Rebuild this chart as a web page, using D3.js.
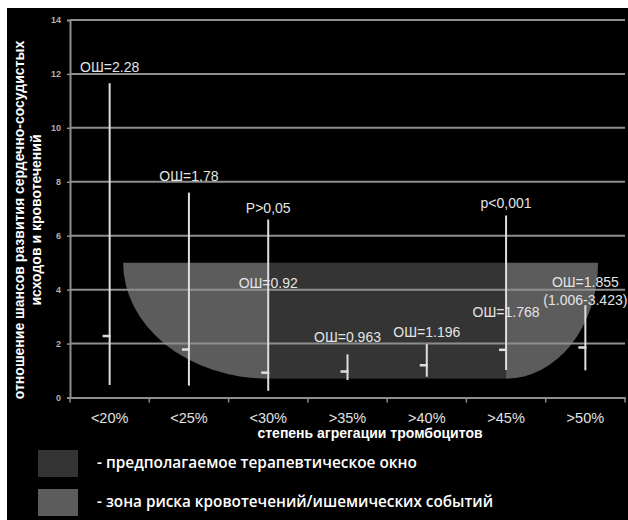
<!DOCTYPE html>
<html>
<head>
<meta charset="utf-8">
<script src="https://cdn.jsdelivr.net/npm/d3@7"></script>
<style>
  html, body { margin: 0; padding: 0; background: #fff; }
  svg { display: block; }
</style>
</head>
<body>
<script>
// Platelet aggregation groups
const categories = ["<20%", "<25%", "<30%", ">35%", ">40%", ">45%", ">50%"];
// Odds ratio and 95% confidence interval for each group
const oddsRatio = [2.28, 1.78, 0.92, 0.963, 1.196, 1.768, 1.855];
const ciLow     = [0.46, 0.44, 0.25, 0.65, 0.77, 1.02, 1.006];
const ciHigh    = [11.65, 7.6, 6.6, 1.6, 1.98, 6.75, 3.423];
// Y axis ticks
const yTicks = [0, 2, 4, 6, 8, 10, 12, 14];
// Annotation texts, their group and the value level of their baseline
const noteTexts  = ["ОШ=2.28", "ОШ=1.78", "P>0,05", "ОШ=0.92", "ОШ=0.963", "ОШ=1.196", "ОШ=1.768", "p<0,001", "ОШ=1.855", "(1.006-3.423)"];
const noteGroup  = ["<20%", "<25%", "<30%", "<30%", ">35%", ">40%", ">45%", ">45%", ">50%", ">50%"];
const noteLevel  = [12.09, 8.02, 6.83, 4.06, 2.04, 2.26, 3.0, 7.04, 4.11, 3.43];
// Zones: value band and group-position extents (in category units)
const zoneTop = 5, zoneBottom = 0.7;
const riskStart = 0.67, windowStart = 2.5, windowEnd = 5.5, riskEnd = 6.66;
// Legend
const legendLabels = ["- предполагаемое терапевтическое окно", "- зона риска кровотечений/ишемических событий"];

const W = 628, H = 520;
const svg = d3.select("body").append("svg").attr("width", W).attr("height", H);

svg.append("rect").attr("width", W).attr("height", H).attr("fill", "#fff");
svg.append("rect").attr("x", 7).attr("y", 8).attr("width", W - 7).attr("height", H - 8).attr("fill", "#000");

const plot = { left: 70, right: 625, top: 20, bottom: 397.5 };
const x = d3.scaleBand().domain(categories).range([plot.left, plot.right]);
const xi = d3.scaleLinear().domain([0, categories.length]).range([plot.left, plot.right]);
const y = d3.scaleLinear().domain([0, 14]).range([plot.bottom, plot.top]);
const cx = c => x(c) + x.bandwidth() / 2;

// Zones
const yT = y(zoneTop), yB = y(zoneBottom);
const xL = xi(riskStart), xWS = xi(windowStart), xWE = xi(windowEnd), xR = xi(riskEnd);
const riskColor = "#5c5c5c", windowColor = "#343434";

svg.append("path")
  .attr("d", `M${xWS},${yT} L${xL},${yT} A${xWS - xL},${yB - yT} 0 0 0 ${xWS},${yB} Z`)
  .attr("fill", riskColor);
svg.append("rect")
  .attr("x", xWS).attr("y", yT).attr("width", xWE - xWS).attr("height", yB - yT)
  .attr("fill", windowColor);
svg.append("path")
  .attr("d", `M${xWE},${yT} L${xR},${yT} A${xR - xWE},${yB - yT} 0 0 1 ${xWE},${yB} Z`)
  .attr("fill", riskColor);

// Grid lines
svg.append("g").selectAll("line").data(yTicks.filter(t => t > 0)).join("line")
  .attr("x1", plot.left).attr("x2", plot.right)
  .attr("y1", d => y(d)).attr("y2", d => y(d))
  .attr("stroke", "#8e8e8e").attr("stroke-width", 2);

// Y axis
const yAxis = svg.append("g").attr("transform", `translate(${plot.left},0)`)
  .call(d3.axisLeft(y).tickValues(yTicks).tickSize(3).tickPadding(6));
yAxis.select(".domain").attr("stroke", "#8e8e8e").attr("stroke-width", 2);
yAxis.selectAll(".tick line").attr("stroke", "#8e8e8e").attr("stroke-width", 1.5);
yAxis.selectAll(".tick text").attr("fill", "#b0b0b0").attr("font-family", "Liberation Sans, Arial, sans-serif")
  .attr("font-size", 9).attr("font-weight", "bold");

// X axis
const xAxis = svg.append("g").attr("transform", `translate(0,${plot.bottom})`)
  .call(d3.axisBottom(x).tickSize(0).tickPadding(15));
xAxis.select(".domain").attr("stroke", "#8e8e8e").attr("stroke-width", 2);
xAxis.selectAll(".tick text").attr("fill", "#e0e0e0").attr("font-family", "Liberation Sans, Arial, sans-serif")
  .attr("font-size", 14.5);
xAxis.selectAll(".edge").data(d3.range(categories.length + 1)).join("line")
  .attr("x1", d => xi(d)).attr("x2", d => xi(d)).attr("y1", 0).attr("y2", 5)
  .attr("stroke", "#8e8e8e").attr("stroke-width", 1.5);

// Confidence intervals and odds ratio markers
const bars = svg.append("g");
categories.forEach((c, i) => {
  bars.append("line")
    .attr("x1", cx(c)).attr("x2", cx(c))
    .attr("y1", y(ciLow[i])).attr("y2", y(ciHigh[i]))
    .attr("stroke", "#dedede").attr("stroke-width", 2);
  bars.append("line")
    .attr("x1", cx(c) - 7).attr("x2", cx(c) + 1)
    .attr("y1", y(oddsRatio[i])).attr("y2", y(oddsRatio[i]))
    .attr("stroke", "#dedede").attr("stroke-width", 2.5);
});

// Annotations
svg.append("g").selectAll("text").data(noteTexts).join("text")
  .attr("x", (d, i) => cx(noteGroup[i]))
  .attr("y", (d, i) => y(noteLevel[i]))
  .attr("text-anchor", "middle")
  .attr("fill", "#e4e4e4")
  .attr("font-family", "Liberation Sans, Arial, sans-serif")
  .attr("font-size", 14)
  .text(d => d);

// Axis titles
svg.append("text")
  .attr("x", 370).attr("y", 438)
  .attr("text-anchor", "middle").attr("fill", "#fff")
  .attr("font-family", "Liberation Sans, Arial, sans-serif")
  .attr("font-size", 14).attr("font-weight", "bold")
  .text("степень агрегации тромбоцитов");

const yTitle = svg.append("g").attr("transform", "translate(0,220) rotate(-90)")
  .attr("text-anchor", "middle").attr("fill", "#fff")
  .attr("font-family", "Liberation Sans, Arial, sans-serif")
  .attr("font-size", 14).attr("font-weight", "bold");
yTitle.append("text").attr("x", 0).attr("y", 24).text("отношение шансов развития сердечно-сосудистых");
yTitle.append("text").attr("x", 0).attr("y", 41).text("исходов и кровотечений");

// Legend
const legend = svg.append("g");
[windowColor, riskColor].forEach((col, i) => {
  legend.append("rect")
    .attr("x", 38).attr("y", 450 + i * 39).attr("width", 40).attr("height", 27)
    .attr("fill", col);
  legend.append("text")
    .attr("x", 97).attr("y", 468 + i * 39)
    .attr("fill", "#fff")
    .attr("font-family", "Open Sans, Noto Sans, sans-serif")
    .attr("font-size", 17)
    .attr("font-weight", 600)
    .attr("textLength", i === 0 ? 320 : 396)
    .attr("lengthAdjust", "spacingAndGlyphs")
    .text(legendLabels[i]);
});
</script>
</body>
</html>
